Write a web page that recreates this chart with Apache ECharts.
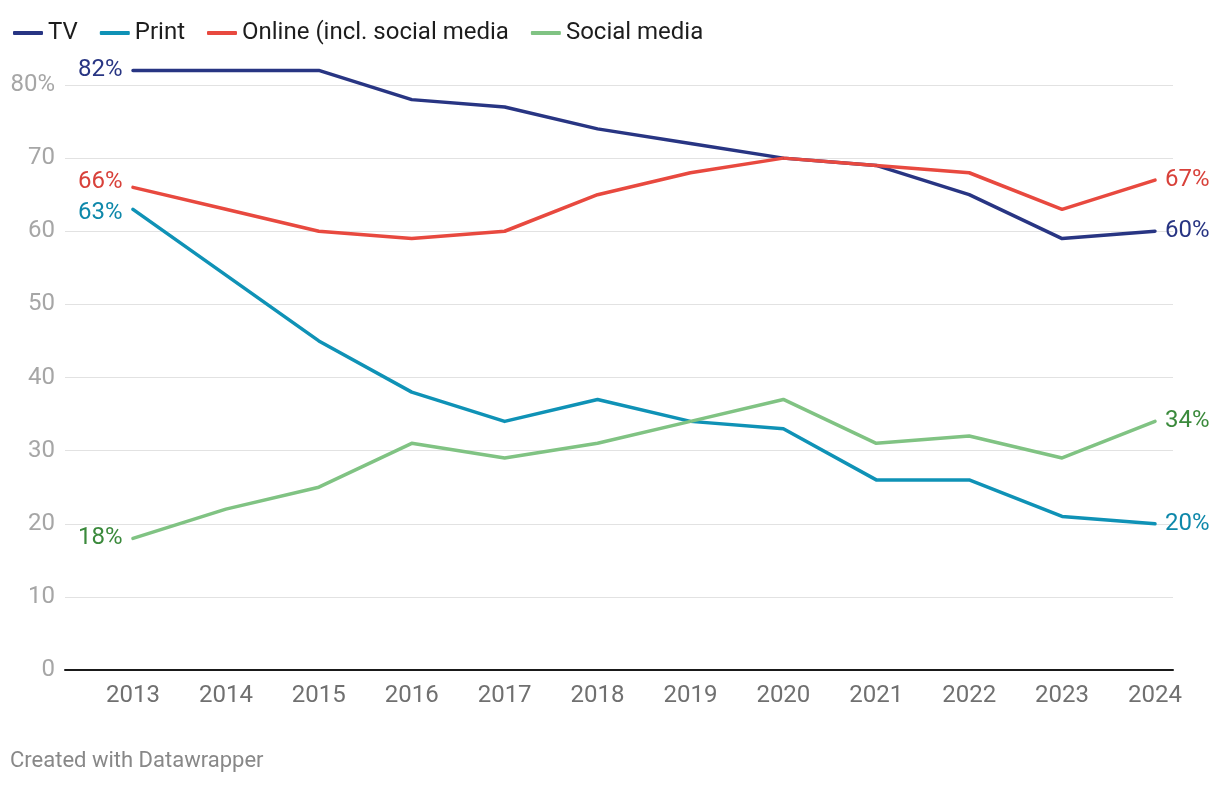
<!DOCTYPE html>
<html>
<head>
<meta charset="utf-8">
<script src="https://cdn.jsdelivr.net/npm/echarts@6/dist/echarts.min.js"></script>
<style>
html,body{margin:0;padding:0;background:#fff;}
#chart{width:1220px;height:786px;}
</style>
</head>
<body>
<div id="chart"></div>
<script>
const years = ['2013','2014','2015','2016','2017','2018','2019','2020','2021','2022','2023','2024'];
const tv = [82, 82, 82, 78, 77, 74, 72, 70, 69, 65, 59, 60];
const print = [63, 54, 45, 38, 34, 37, 34, 33, 26, 26, 21, 20];
const online = [66, 63, 60, 59, 60, 65, 68, 70, 69, 68, 63, 67];
const social = [18, 22, 25, 31, 29, 31, 34, 37, 31, 32, 29, 34];
const yTicks = [0, 10, 20, 30, 40, 50, 60, 70, 80];

const FONT = 'Roboto, "Noto Sans", sans-serif';

function mkSeries(name, values, lineColor, labelColor, startOffset) {
  return {
    name: name,
    type: 'line',
    xAxisIndex: 1,
    yAxisIndex: 1,
    clip: false,
    symbol: 'circle',
    symbolSize: 1,
    showSymbol: true,
    smooth: false,
    lineStyle: { color: lineColor, width: 3.5, cap: 'round', join: 'round' },
    itemStyle: { color: lineColor },
    emphasis: { disabled: true },
    label: { show: false },
    data: values.map((v, i) => i === 0 ? {
      value: v,
      label: {
        show: true, position: 'left', distance: 10, offset: startOffset,
        formatter: '{c}%', color: labelColor, fontSize: 24, fontFamily: FONT
      }
    } : v),
    endLabel: {
      show: true, distance: 10, color: labelColor, fontSize: 24, fontFamily: FONT,
      formatter: p => p.value + '%'
    }
  };
}

const chart = echarts.init(document.getElementById('chart'));
chart.setOption({
  animation: false,
  backgroundColor: '#ffffff',
  textStyle: { fontFamily: FONT },
  legend: {
    left: 8, top: 16,
    icon: 'roundRect',
    itemWidth: 30, itemHeight: 4,
    itemGap: 22,
    textStyle: { fontSize: 24, color: '#1d1d1d', fontFamily: FONT },
    data: ['TV', 'Print', 'Online (incl. social media', 'Social media']
  },
  graphic: [{
    type: 'text', left: 10, top: 750,
    style: { text: 'Created with Datawrapper', fill: '#888888', fontSize: 22, fontFamily: FONT }
  }],
  grid: [
    { left: 65, right: 47, top: 85, bottom: 116 },
    { left: 133, right: 65, top: 85, bottom: 116 }
  ],
  xAxis: [
    {
      gridIndex: 0, type: 'value', min: 0, max: 1,
      axisLine: { show: true, lineStyle: { color: '#1a1a1a', width: 2 } },
      axisTick: { show: false }, axisLabel: { show: false }, splitLine: { show: false }
    },
    {
      gridIndex: 1, type: 'category', data: years, boundaryGap: false,
      axisLine: { show: false }, axisTick: { show: false }, splitLine: { show: false },
      axisLabel: { color: '#707070', fontSize: 24, margin: 14, fontFamily: FONT, interval: 0 }
    }
  ],
  yAxis: [
    {
      gridIndex: 0, type: 'value', min: 0, max: 80, interval: 10,
      axisLine: { show: false }, axisTick: { show: false },
      splitLine: { show: true, lineStyle: { color: '#e2e2e2', width: 1 } },
      axisLabel: {
        color: '#a6a6a6', fontSize: 24, margin: 10, fontFamily: FONT,
        formatter: v => (yTicks.indexOf(v) >= 0 ? (v === 80 ? v + '%' : String(v)) : '')
      }
    },
    {
      gridIndex: 1, type: 'value', min: 0, max: 80, interval: 10, show: false,
      splitLine: { show: false }
    }
  ],
  series: [
    mkSeries('TV', tv, '#283583', '#283583', [0, 0]),
    mkSeries('Print', print, '#0f92b6', '#0e88aa', [0, 4]),
    mkSeries('Online (incl. social media', online, '#e8493f', '#d8413a', [0, -5]),
    mkSeries('Social media', social, '#80c383', '#3b8a3c', [0, 0])
  ]
});
</script>
</body>
</html>
